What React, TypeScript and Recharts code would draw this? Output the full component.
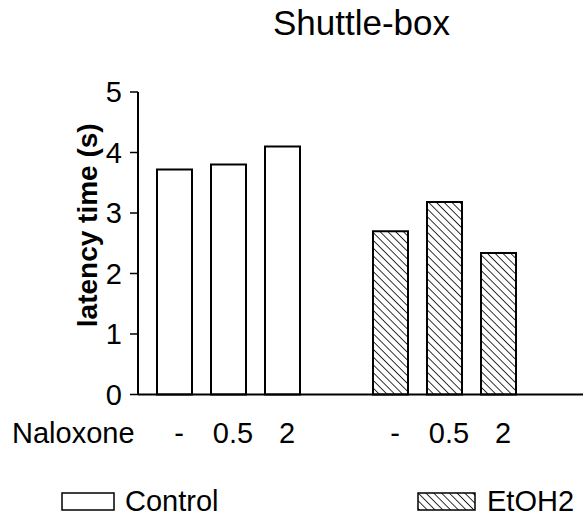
import { Bar, BarChart, Legend, XAxis, YAxis } from "recharts";

// Naloxone dose under each bar, two empty slots as gaps
const doseLabels = ["-", "0.5", "2", "", "-", "0.5", "2", ""];
const controlValues = [3.72, 3.8, 4.1, null, null, null, null, null];
const ethanolValues = [null, null, null, null, 2.7, 3.18, 2.34, null];
const yTicks = [0, 1, 2, 3, 4, 5];

const data = doseLabels.map((dose, i) => ({
  slot: i,
  dose,
  control: controlValues[i],
  ethanol: ethanolValues[i],
}));

const FONT = "'Liberation Sans', Arial, Helvetica, sans-serif";

function YLabel(props: any) {
  const vb = props.viewBox || { x: 0, y: 0, width: 138, height: 300 };
  const cx = vb.x + 97;
  const cy = vb.y + vb.height / 2 - 18;
  return (
    <text
      x={cx}
      y={cy}
      transform={`rotate(-90 ${cx} ${cy})`}
      textAnchor="middle"
      fontFamily={FONT}
      fontWeight="bold"
      fontSize={28}
      fill="#000"
    >
      latency time (s)
    </text>
  );
}

function XLabel(props: any) {
  const vb = props.viewBox || { x: 138, y: 394, width: 445, height: 90 };
  return (
    <text x={12} y={vb.y + 48} fontFamily={FONT} fontSize={29} fill="#000">
      Naloxone
    </text>
  );
}

function LegendBox() {
  return (
    <svg width={583} height={36} style={{ display: "block", overflow: "visible" }}>
      <defs>
        <pattern id="hatchLegend" patternUnits="userSpaceOnUse" width={5.5} height={5.5} patternTransform="rotate(-45)">
          <line x1={0} y1={0} x2={0} y2={5.5} stroke="#000" strokeWidth={1.6} />
        </pattern>
      </defs>
      <rect x={62} y={13} width={52} height={17} fill="#fff" stroke="#000" strokeWidth={1.5} />
      <text x={125} y={30.5} fontFamily={FONT} fontSize={29} fill="#000">
        Control
      </text>
      <rect x={418} y={13} width={57} height={17} fill="url(#hatchLegend)" stroke="#000" strokeWidth={1.5} />
      <text x={487} y={30.5} fontFamily={FONT} fontSize={29} fill="#000">
        EtOH2
      </text>
    </svg>
  );
}

export default function App() {
  return (
    <div style={{ position: "absolute", left: 0, top: 0, width: 583, height: 516, background: "#fff" }}>
      <div
        style={{
          position: "absolute",
          left: 0,
          top: 5,
          width: 723,
          textAlign: "center",
          fontFamily: FONT,
          fontSize: 35,
          lineHeight: "35px",
          color: "#000",
        }}
      >
        Shuttle-box
      </div>
      <BarChart width={583} height={516} data={data} margin={{ top: 92, right: 0, bottom: 0, left: 0 }}>
        <defs>
          <pattern id="hatch" patternUnits="userSpaceOnUse" width={5.5} height={5.5} patternTransform="rotate(-45)">
            <line x1={0} y1={0} x2={0} y2={5.5} stroke="#000" strokeWidth={1.6} />
          </pattern>
        </defs>
        <XAxis
          dataKey="slot"
          type="category"
          height={85.5}
          padding={{ left: 9, right: 4 }}
          tickFormatter={(_v: any, i: number) => doseLabels[i]}
          tickLine={false}
          tickSize={0}
          tickMargin={28}
          tick={{ fontFamily: FONT, fontSize: 29, fill: "#000", dx: 5 }}
          axisLine={{ stroke: "#000", strokeWidth: 2 }}
          interval={0}
          label={<XLabel />}
        />
        <YAxis
          width={138}
          domain={[0, 5]}
          ticks={yTicks}
          interval={0}
          tickSize={8}
          tickMargin={8}
          tick={{ fontFamily: FONT, fontSize: 29, fill: "#000" }}
          tickLine={{ stroke: "#000", strokeWidth: 1.5 }}
          axisLine={{ stroke: "#000", strokeWidth: 2 }}
          label={<YLabel />}
        />
        <Legend
          verticalAlign="bottom"
          content={() => <LegendBox />}
          wrapperStyle={{ position: "absolute", left: 0, top: 480, width: 583, height: 36 }}
        />
        <Bar dataKey="control" stackId="a" barSize={35} fill="#fff" stroke="#000" strokeWidth={2} isAnimationActive={false} />
        <Bar dataKey="ethanol" stackId="a" barSize={35} fill="url(#hatch)" stroke="#000" strokeWidth={2} isAnimationActive={false} />
      </BarChart>
    </div>
  );
}
